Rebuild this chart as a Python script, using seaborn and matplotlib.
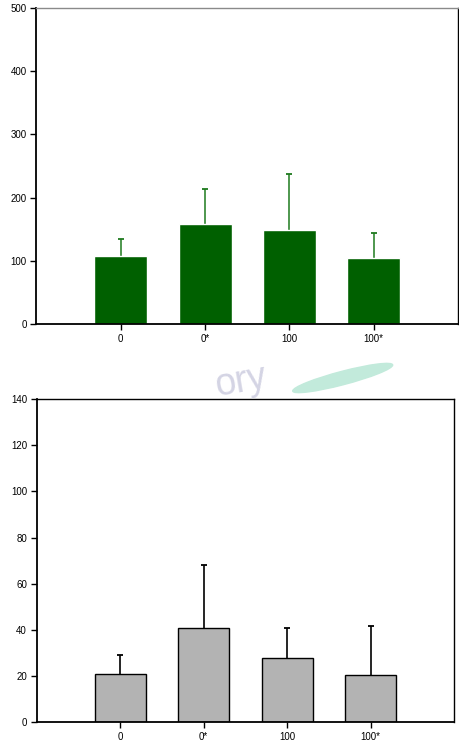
import numpy as np
import pandas as pd
import seaborn as sns
import matplotlib.pyplot as plt
from matplotlib.patches import Ellipse

# data
groups = ["0", "0*", "100", "100*"]
top_mean = [107, 159, 148, 104]
top_err = [28, 55, 89, 40]
bottom_mean = [21, 41, 28, 20.5]
bottom_err = [8.2, 27, 12.7, 21]

sns.set_theme(style="white")
plt.rcParams['font.family'] = ['Liberation Sans', 'DejaVu Sans']

fig = plt.figure(figsize=(4.6, 7.56), dpi=100)
ax1 = fig.add_axes([0.0793, 0.5714, 0.9164, 0.418])
ax2 = fig.add_axes([0.0797, 0.0446, 0.9073, 0.4276])

top_df = pd.DataFrame({"group": groups, "value": top_mean})
bot_df = pd.DataFrame({"group": groups, "value": bottom_mean})


def style_axes(ax, ymax, step):
    ax.set_xlim(-1, 4)
    ax.set_ylim(0, ymax)
    ax.set_yticks(np.arange(0, ymax + 1, step))
    ax.set_xlabel("")
    ax.set_ylabel("")
    ax.tick_params(axis="both", direction="out", length=4, width=1,
                   labelsize=7, colors="black", pad=3)
    ax.tick_params(axis="both", which="both", left=True, bottom=True)
    for s in ["left", "bottom", "right", "top"]:
        ax.spines[s].set_color("black")
        ax.spines[s].set_linewidth(1.0)
    ax.spines["left"].set_linewidth(1.3)
    ax.spines["bottom"].set_linewidth(1.3)


def upper_errorbar(ax, means, errs, color, lw, cap):
    eb = ax.errorbar(np.arange(len(means)), means, yerr=[np.zeros(len(errs)), errs],
                     fmt="none", ecolor=color, elinewidth=lw, capsize=cap,
                     capthick=1.3, zorder=0.5)
    # drop the lower cap so only the upper whisker is visible
    eb[1][0].remove()


# watermark between the panels
fig.text(0.523, 0.495, "ory", fontsize=27, color="#d4d4e4", rotation=10,
         ha="center", va="center", zorder=0)
fig.patches.append(Ellipse((0.745, 0.5), 0.22, 0.018, angle=9,
                           transform=fig.transFigure, color="#c2eadb",
                           zorder=0))

# top panel, green bars
upper_errorbar(ax1, top_mean, top_err, "#1e7a1e", 1.1, 2.0)
sns.barplot(data=top_df, x="group", y="value", order=groups, color="#006000",
            saturation=1, width=0.63, errorbar=None, ax=ax1, zorder=2)
style_axes(ax1, 500, 100)
ax1.spines["top"].set_color("#8a8a8a")

# bottom panel, gray bars
upper_errorbar(ax2, bottom_mean, bottom_err, "black", 1.2, 2.5)
sns.barplot(data=bot_df, x="group", y="value", order=groups, color="#b3b3b3",
            saturation=1, width=0.61, errorbar=None, edgecolor="black",
            linewidth=1.0, ax=ax2, zorder=2)
style_axes(ax2, 140, 20)

fig.savefig("out.png", dpi=100)
